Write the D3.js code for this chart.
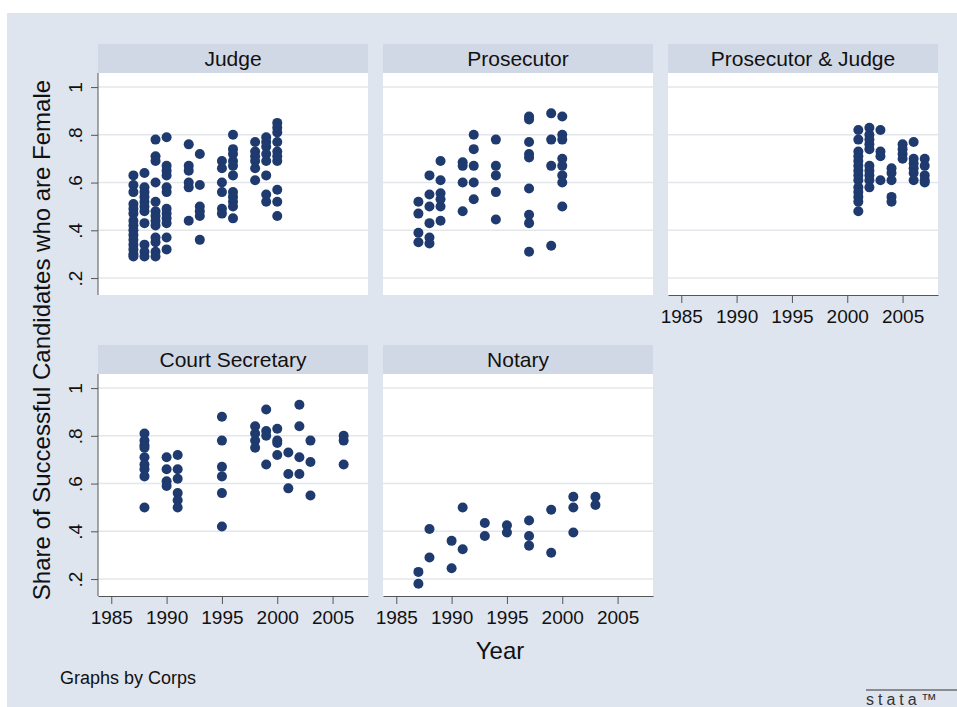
<!DOCTYPE html>
<html>
<head>
<meta charset="utf-8">
<script src="https://d3js.org/d3.v7.min.js"></script>
<style>
body { margin: 0; background: #fff; }
text { font-family: Arial, "Liberation Sans", Helvetica, sans-serif; }
</style>
</head>
<body>
<div id="chart"></div>
<script>

// share of female candidates, by year, one list per corps
var judge = [
  [1987, [0.63, 0.59, 0.56, 0.51, 0.49, 0.47, 0.44, 0.42, 0.40, 0.38, 0.36, 0.34, 0.32, 0.30, 0.29]],
  [1988, [0.64, 0.58, 0.56, 0.54, 0.52, 0.50, 0.48, 0.43, 0.34, 0.31, 0.29]],
  [1989, [0.78, 0.71, 0.69, 0.60, 0.52, 0.48, 0.46, 0.44, 0.42, 0.37, 0.35, 0.31, 0.29]],
  [1990, [0.79, 0.67, 0.65, 0.63, 0.58, 0.56, 0.49, 0.47, 0.45, 0.43, 0.37, 0.32]],
  [1992, [0.76, 0.67, 0.65, 0.60, 0.58, 0.44]],
  [1993, [0.72, 0.59, 0.50, 0.48, 0.46, 0.36]],
  [1995, [0.69, 0.66, 0.60, 0.56, 0.49, 0.47]],
  [1996, [0.80, 0.74, 0.72, 0.69, 0.67, 0.63, 0.56, 0.54, 0.52, 0.50, 0.45]],
  [1998, [0.77, 0.73, 0.71, 0.69, 0.66, 0.61]],
  [1999, [0.79, 0.77, 0.75, 0.72, 0.69, 0.63, 0.55, 0.52]],
  [2000, [0.85, 0.83, 0.81, 0.77, 0.73, 0.71, 0.69, 0.57, 0.52, 0.46]]
];

var prosecutor = [
  [1987, [0.52, 0.47, 0.39, 0.35]],
  [1988, [0.63, 0.55, 0.50, 0.43, 0.37, 0.345]],
  [1989, [0.69, 0.61, 0.555, 0.53, 0.50, 0.44]],
  [1991, [0.685, 0.67, 0.60, 0.48]],
  [1992, [0.80, 0.74, 0.67, 0.60, 0.53]],
  [1994, [0.78, 0.67, 0.63, 0.56, 0.445]],
  [1997, [0.877, 0.864, 0.77, 0.72, 0.705, 0.575, 0.465, 0.43, 0.31]],
  [1999, [0.89, 0.78, 0.67, 0.335]],
  [2000, [0.877, 0.80, 0.78, 0.70, 0.67, 0.63, 0.60, 0.50]]
];

var prosJudge = [
  [2001, [0.82, 0.78, 0.73, 0.71, 0.69, 0.67, 0.65, 0.63, 0.61, 0.58, 0.56, 0.54, 0.52, 0.48]],
  [2002, [0.83, 0.80, 0.78, 0.76, 0.74, 0.67, 0.65, 0.63, 0.61, 0.58]],
  [2003, [0.82, 0.73, 0.71, 0.61]],
  [2004, [0.66, 0.64, 0.61, 0.54, 0.52]],
  [2005, [0.76, 0.74, 0.72, 0.70]],
  [2006, [0.77, 0.70, 0.68, 0.66, 0.64, 0.61]],
  [2007, [0.70, 0.67, 0.63, 0.61, 0.60]]
];

var courtSecretary = [
  [1988, [0.81, 0.78, 0.76, 0.75, 0.71, 0.68, 0.66, 0.63, 0.50]],
  [1990, [0.71, 0.66, 0.61, 0.59]],
  [1991, [0.72, 0.66, 0.62, 0.56, 0.53, 0.50]],
  [1995, [0.88, 0.78, 0.67, 0.63, 0.56, 0.42]],
  [1998, [0.84, 0.81, 0.78, 0.75]],
  [1999, [0.91, 0.82, 0.80, 0.68]],
  [2000, [0.83, 0.78, 0.77, 0.72]],
  [2001, [0.73, 0.64, 0.58]],
  [2002, [0.93, 0.84, 0.71, 0.64]],
  [2003, [0.78, 0.69, 0.55]],
  [2006, [0.80, 0.78, 0.68]]
];

var notary = [
  [1987, [0.23, 0.18]],
  [1988, [0.41, 0.29]],
  [1990, [0.36, 0.245]],
  [1991, [0.50, 0.325]],
  [1993, [0.435, 0.38]],
  [1995, [0.425, 0.395]],
  [1997, [0.445, 0.38, 0.34]],
  [1999, [0.49, 0.31]],
  [2001, [0.545, 0.50, 0.395]],
  [2003, [0.545, 0.51]]
];

var corps = ["Judge", "Prosecutor", "Prosecutor & Judge", "Court Secretary", "Notary"];
var corpsData = [judge, prosecutor, prosJudge, courtSecretary, notary];
var xTicks = [1985, 1990, 1995, 2000, 2005];
var yTicks = [0.2, 0.4, 0.6, 0.8, 1];
var yTickLabels = [".2", ".4", ".6", ".8", "1"];

var W = 957, H = 707;
var bg = "#dfe5ef", stripBg = "#d1d8e5", dotColor = "#1e3a6e";

// panel geometry
var panelW = 270, stripH = 29, plotH = 222;
var colX = [98, 383, 668], rowY = [44, 345];

var svg = d3.select("#chart").append("svg")
  .attr("width", W)
  .attr("height", H);

svg.append("rect")
  .attr("x", 7).attr("y", 13)
  .attr("width", W - 7).attr("height", H - 13)
  .attr("fill", bg);

var x = d3.scaleLinear().domain([1983.8, 2008.2]).range([0, panelW]);
var y = d3.scaleLinear().domain([0.129, 1.059]).range([plotH, 0]);

corps.forEach(function(name, i) {
  var col = i % 3, row = Math.floor(i / 3);
  var g = svg.append("g")
    .attr("transform", "translate(" + colX[col] + "," + rowY[row] + ")");

  // strip with the corps name
  g.append("rect")
    .attr("width", panelW).attr("height", stripH)
    .attr("fill", stripBg);
  g.append("text")
    .attr("x", panelW / 2).attr("y", stripH / 2)
    .attr("dy", "0.36em")
    .attr("text-anchor", "middle")
    .attr("font-size", 21)
    .attr("fill", "#111")
    .text(name);

  var p = g.append("g").attr("transform", "translate(0," + stripH + ")");
  p.append("rect")
    .attr("width", panelW).attr("height", plotH)
    .attr("fill", "#fff");

  // grid lines
  p.selectAll(".grid")
    .data(yTicks).join("line")
    .attr("class", "grid")
    .attr("x1", 0).attr("x2", panelW)
    .attr("y1", d => y(d)).attr("y2", d => y(d))
    .attr("stroke", "#e3e6eb")
    .attr("stroke-width", 1.5);

  var pts = [];
  corpsData[i].forEach(function(c) {
    c[1].forEach(function(v) { pts.push({year: c[0], share: v}); });
  });

  p.selectAll("circle")
    .data(pts).join("circle")
    .attr("cx", d => x(d.year))
    .attr("cy", d => y(d.share))
    .attr("r", 5)
    .attr("fill", dotColor);

  // y axis only on the first column
  if (col == 0) {
    var ya = p.append("g")
      .call(d3.axisLeft(y).tickValues(yTicks).tickSize(7).tickSizeOuter(0)
        .tickFormat((d, k) => yTickLabels[k]));
    ya.select(".domain").attr("stroke", "#555").attr("d", "M0,0V" + plotH);
    ya.selectAll(".tick line").attr("stroke", "#555");
    ya.selectAll(".tick text")
      .attr("x", 0).attr("y", 0).attr("dy", 0)
      .attr("transform", "translate(-16,0) rotate(-90)")
      .attr("text-anchor", "middle")
      .attr("font-size", 19)
      .attr("fill", "#111");
  }

  // x axis on the bottom panel of each column
  if (row == 1 || col == 2) {
    var xa = p.append("g")
      .attr("transform", "translate(0," + plotH + ")")
      .call(d3.axisBottom(x).tickValues(xTicks).tickSize(8).tickSizeOuter(0)
        .tickFormat(d3.format("d")).tickPadding(7));
    xa.select(".domain").attr("stroke", "#555");
    xa.selectAll(".tick line").attr("stroke", "#555");
    xa.selectAll(".tick text")
      .attr("font-size", 19)
      .attr("fill", "#111");
  }
});

svg.append("text")
  .attr("transform", "translate(50,340) rotate(-90)")
  .attr("text-anchor", "middle")
  .attr("font-size", 24)
  .attr("fill", "#111")
  .text("Share of Successful Candidates who are Female");

svg.append("text")
  .attr("x", 500).attr("y", 659)
  .attr("text-anchor", "middle")
  .attr("font-size", 24)
  .attr("fill", "#111")
  .text("Year");

svg.append("text")
  .attr("x", 60).attr("y", 684)
  .attr("font-size", 18)
  .attr("fill", "#111")
  .text("Graphs by Corps");

// stata mark
svg.append("line")
  .attr("x1", 866).attr("x2", W)
  .attr("y1", 690).attr("y2", 690)
  .attr("stroke", "#333");
svg.append("text")
  .attr("x", 866).attr("y", 705)
  .attr("font-family", "DejaVu Sans Mono, monospace")
  .attr("font-size", 16)
  .attr("letter-spacing", 4)
  .attr("fill", "#333")
  .text("stata\u2122");

</script>
</body>
</html>
